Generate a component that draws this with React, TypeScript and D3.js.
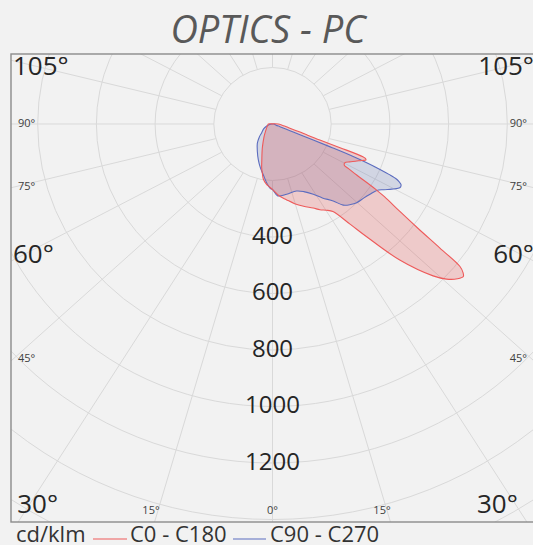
import React from 'react';
import * as d3 from 'd3';

const TITLE = 'OPTICS - PC';
const UNIT = 'cd/klm';
const SERIES_NAMES = ['C0 - C180', 'C90 - C270'];
const SERIES_COLORS = ['#ee5a5a', '#5b6cbf'];
const SERIES_FILLS = ['rgba(225,60,60,0.22)', 'rgba(80,100,170,0.20)'];

const RING_VALUES = [200, 400, 600, 800, 1000, 1200, 1400, 1600, 1800, 2000, 2200];
const RING_LABELS = [400, 600, 800, 1000, 1200];
const SPOKE_ANGLES = d3.range(0, 360, 15);
const SIDE_LABEL_ANGLES = [105, 90, 75, 60, 45];
const BOTTOM_LABEL_ANGLES = [30, 15, 0];
const BIG_LABEL_ANGLES = [105, 60, 30];

// C0 - C180 : right half (C0)
const C0_GAMMA = [0, 5, 10, 15, 20, 25, 28, 31, 33.6, 36.7, 38.8, 42, 45.5, 47.2, 49, 50.3, 51, 51.7, 52.4, 53.3, 54.5, 56, 56.6, 57, 57.8, 58.7, 59.2, 61, 63, 65, 67, 68.2, 69, 69.4, 70, 70.6, 72, 73, 76, 80, 84, 90, 95, 100];
const C0_VALUES = [232, 255, 272, 292, 310, 328, 344, 356, 372, 442, 512, 648, 767, 808, 835, 845, 835, 814, 720, 619, 533, 460, 424, 395, 339, 302, 285, 282, 295, 312, 330, 343, 338, 329, 245, 171, 118, 98, 61, 42, 31, 20, 8, 2];
// C0 - C180 : left half (C180)
const C180_GAMMA = [0, 3, 6, 9, 11, 13.4, 16, 19, 22, 25.7, 30, 35, 41, 50, 60, 70, 80, 90, 95, 100];
const C180_VALUES = [232, 222, 212, 198, 180, 159, 132, 110, 93, 75, 60, 48, 37, 28, 22, 18, 16, 14, 8, 2];
// C90 - C270 : right half (C90)
const C90_GAMMA = [0, 4, 11, 19, 24, 29.2, 33, 37.2, 40, 43, 45.8, 50, 53.2, 56.5, 58.5, 60.4, 62, 63, 64, 64.6, 65.2, 65.8, 66.3, 66.9, 67.3, 67.6, 67.8, 68, 68.3, 69.5, 72, 80, 90, 100];
const C90_VALUES = [232, 255, 253, 251, 262, 285, 312, 342, 375, 390, 400, 407, 415, 426, 445, 467, 485, 490, 487, 478, 466, 435, 400, 349, 300, 220, 150, 101, 64, 27, 13, 8, 5, 0];
// C90 - C270 : left half (C270)
const C270_GAMMA = [0, 2, 5, 9.8, 15, 20.8, 28, 37, 44, 50, 60, 70, 80, 90, 100];
const C270_VALUES = [232, 228, 212, 183, 160, 136, 110, 86, 65, 48, 35, 21, 10, 3, 0];

const W = 533;
const H = 545;
const CX = 272.5;
const CY = 124;
const FRAME = { left: 11, top: 54, right: 534, bottom: 522 };
const SPOKE_RATIO = 0.9;
const FONT = "'Open Sans', 'Noto Sans', sans-serif";

const xScale = d3.scaleLinear().domain([-1000, 1000]).range([CX - 293.5, CX + 293.5]);
const yScale = d3.scaleLinear().domain([-1000, 1000]).range([CY - 282.5, CY + 282.5]);
const rad = (deg: number) => (deg * Math.PI) / 180;

function buildPath(rg: number[], rv: number[], lg: number[], lv: number[]) {
  const pts: [number, number][] = [];
  rg.forEach((g, i) => {
    pts.push([xScale(rv[i] * Math.sin(rad(g))), yScale(rv[i] * Math.cos(rad(g)))]);
  });
  for (let i = lg.length - 1; i >= 1; i--) {
    const g = lg[i];
    pts.push([xScale(-lv[i] * Math.sin(rad(g))), yScale(lv[i] * Math.cos(rad(g)))]);
  }
  return d3.line().curve(d3.curveCatmullRomClosed.alpha(0.5))(pts) || '';
}

// y where a spoke meets the left/right frame edge
function spokeSideY(angle: number) {
  const sx = Math.sin(rad(angle));
  const sy = Math.cos(rad(angle)) * SPOKE_RATIO;
  const t = (CX - FRAME.left) / sx;
  return CY + sy * t;
}
// horizontal offset from centre where a spoke meets the bottom frame edge
function spokeBottomDx(angle: number) {
  return (Math.tan(rad(angle)) / SPOKE_RATIO) * (FRAME.bottom - CY);
}

export default function App() {
  const kx = xScale(1) - xScale(0);
  const ky = yScale(1) - yScale(0);
  const redPath = buildPath(C0_GAMMA, C0_VALUES, C180_GAMMA, C180_VALUES);
  const bluePath = buildPath(C90_GAMMA, C90_VALUES, C270_GAMMA, C270_VALUES);

  const spokes = SPOKE_ANGLES.map((a) => {
    const sx = Math.sin(rad(a));
    const sy = Math.cos(rad(a));
    const r0 = 200;
    const x0 = CX + r0 * kx * sx;
    const y0 = CY + r0 * ky * sy;
    const L = 3000;
    const x1 = CX + L * kx * sx;
    const y1 = CY + L * kx * SPOKE_RATIO * sy;
    return { a, x0, y0, x1, y1 };
  });

  const labels: { text: string; x: number; y: number; anchor: string; big: boolean }[] = [];
  SIDE_LABEL_ANGLES.forEach((a) => {
    const big = BIG_LABEL_ANGLES.includes(a);
    const ly = spokeSideY(a);
    const yy = Math.max(FRAME.top + 11, ly - (big ? 7 : 2));
    labels.push({ text: `${a}°`, x: FRAME.left + (big ? 2 : 7), y: yy, anchor: 'start', big });
    labels.push({ text: `${a}°`, x: FRAME.right - (big ? 0 : 7), y: yy, anchor: 'end', big });
  });
  BOTTOM_LABEL_ANGLES.forEach((a) => {
    const big = BIG_LABEL_ANGLES.includes(a);
    if (a === 0) {
      labels.push({ text: '0°', x: CX, y: FRAME.bottom - 13, anchor: 'middle', big });
      return;
    }
    const dx = spokeBottomDx(a);
    if (big) {
      labels.push({ text: `${a}°`, x: Math.max(CX - dx, FRAME.left + 4), y: FRAME.bottom - 19, anchor: 'start', big });
      labels.push({ text: `${a}°`, x: Math.min(CX + dx - 10, FRAME.right - 14), y: FRAME.bottom - 19, anchor: 'end', big });
    } else {
      labels.push({ text: `${a}°`, x: CX - dx - 3, y: FRAME.bottom - 13, anchor: 'middle', big });
      labels.push({ text: `${a}°`, x: CX + dx - 9, y: FRAME.bottom - 13, anchor: 'middle', big });
    }
  });

  return (
    <div style={{ position: 'fixed', left: 0, top: 0, width: W, height: H, background: '#f2f2f2' }}>
      <svg width={W} height={H} style={{ display: 'block', fontFamily: FONT }}>
        <defs>
          <clipPath id="frameClip">
            <rect x={FRAME.left} y={FRAME.top} width={FRAME.right - FRAME.left} height={FRAME.bottom - FRAME.top} />
          </clipPath>
        </defs>
        <rect x={0} y={0} width={W} height={H} fill="#f2f2f2" />
        <text x={268} y={43} textAnchor="middle" fontSize={38} fontStyle="italic" fill="#595959">
          {TITLE}
        </text>
        <g clipPath="url(#frameClip)">
          {RING_VALUES.map((v) => (
            <ellipse key={v} cx={CX} cy={CY} rx={v * kx} ry={v * ky} fill="none" stroke="#d9d9d9" strokeWidth={1} />
          ))}
          {spokes.map((s) => (
            <line key={s.a} x1={s.x0} y1={s.y0} x2={s.x1} y2={s.y1} stroke="#d9d9d9" strokeWidth={1} />
          ))}
          <path d={bluePath} fill={SERIES_FILLS[1]} stroke="none" />
          <path d={redPath} fill={SERIES_FILLS[0]} stroke="none" />
          <path d={bluePath} fill="none" stroke={SERIES_COLORS[1]} strokeWidth={1.1} />
          <path d={redPath} fill="none" stroke={SERIES_COLORS[0]} strokeWidth={1.1} />
          {RING_LABELS.map((v) => (
            <text key={v} x={CX} y={yScale(v) - 3} textAnchor="middle" dominantBaseline="central" fontSize={24} fill="#262626">
              {v}
            </text>
          ))}
          {labels.map((l, i) => (
            <text
              key={i}
              x={l.x}
              y={l.y}
              textAnchor={l.anchor as any}
              dominantBaseline="central"
              fontSize={l.big ? 26 : 11}
              fill={l.big ? '#262626' : '#404040'}
            >
              {l.text}
            </text>
          ))}
        </g>
        <rect
          x={FRAME.left}
          y={FRAME.top}
          width={FRAME.right - FRAME.left}
          height={FRAME.bottom - FRAME.top}
          fill="none"
          stroke="#8c8c8c"
          strokeWidth={1.4}
        />
        <g fontSize={22} fill="#333333">
          <text x={16} y={542}>{UNIT}</text>
          <line x1={93} x2={127} y1={539} y2={539} stroke={SERIES_COLORS[0]} strokeWidth={1} />
          <text x={130} y={542}>{SERIES_NAMES[0]}</text>
          <line x1={233} x2={266} y1={539} y2={539} stroke={SERIES_COLORS[1]} strokeWidth={1} />
          <text x={270} y={542}>{SERIES_NAMES[1]}</text>
        </g>
      </svg>
    </div>
  );
}
